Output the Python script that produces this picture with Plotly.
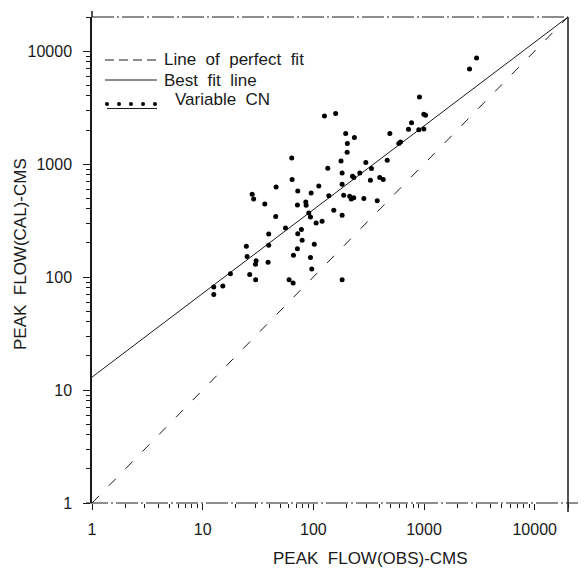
import math
import plotly.graph_objects as go

# ---------------- data ----------------
obs_cms = [64.3, 182, 46.1, 72.3, 112, 95.5, 28.0, 28.9, 36.4, 71.8,
           85.4, 86.1, 138, 182, 188, 45.7, 90.9, 94.2, 153, 182,
           106, 120, 56.0, 78.0, 72.3, 39.5, 79.2, 39.5, 24.8, 102,
           71.8, 66.1, 25.2, 94.2, 30.4, 30.0, 39.0, 96.8, 17.8, 26.6,
           30.1, 60.4, 65.7, 182, 12.6, 15.2, 12.6, 910, 996, 1032,
           126, 159, 771, 724, 897, 996, 196, 235, 491, 203,
           613, 202, 63.8, 178, 465, 298, 135, 335, 226, 232,
           263, 328, 398, 428, 213, 220, 232, 286, 378, 2985,
           2578, 592]
cal_cms = [728, 832, 626, 577, 639, 554, 539, 490, 443, 434,
           461, 431, 525, 661, 528, 344, 368, 340, 389, 352,
           300, 311, 271, 263, 242, 240, 211, 191, 187, 195,
           178, 156, 152, 149, 139, 130, 135, 118, 107, 105,
           94.8, 94.8, 88.5, 94.8, 81.6, 83.2, 69.9, 3918, 2754, 2698,
           2660, 2793, 2324, 2028, 2015, 2041, 1858, 1713, 1858, 1516,
           1566, 1270, 1130, 1063, 1079, 1029, 916, 911, 778, 758,
           832, 718, 758, 728, 518, 490, 504, 494, 474, 8670,
           6930, 1516]

perfect_x = [1, 20000]
perfect_y = [1, 20000]
bestfit_x = [1, 20000]
bestfit_y = [13, 20000]

tick_vals = [1, 10, 100, 1000, 10000]
tick_text = ["1", "10", "100", "1000", "10000"]
axis_max = 20000

x_title = "PEAK  FLOW(OBS)-CMS"
y_title = "PEAK  FLOW(CAL)-CMS"
legend_labels = ["Line  of  perfect  fit", "Best  fit  line", "Variable  CN"]

# ---------------- layout geometry ----------------
# the page body adds an 8px margin, so the figure is drawn 8px in from the corner
OFF = 8
W, H = 586 - OFF, 574 - OFF
PLOT_L, PLOT_R, PLOT_T, PLOT_B = 92, 568, 17, 503   # target window pixels
L, T = PLOT_L - OFF, PLOT_T - OFF
R, B = W - (PLOT_R - OFF), H - (PLOT_B - OFF)
PW, PH = W - L - R, H - T - B
FONT = "Liberation Sans, Arial, Helvetica, sans-serif"
INK = "#1a1a1a"


def px_x(p):
    return (p - PLOT_L) / PW


def px_y(p):
    return (PLOT_B - p) / PH


fig = go.Figure()
fig.add_trace(go.Scatter(x=perfect_x, y=perfect_y, mode="lines",
                         line=dict(color=INK, width=1, dash="10px,14px"),
                         showlegend=False, hoverinfo="skip"))
fig.add_trace(go.Scatter(x=bestfit_x, y=bestfit_y, mode="lines",
                         line=dict(color=INK, width=1),
                         showlegend=False, hoverinfo="skip"))
fig.add_trace(go.Scatter(x=obs_cms, y=cal_cms, mode="markers",
                         marker=dict(color="black", size=5),
                         showlegend=False))

rng = [0, math.log10(axis_max)]
common = dict(type="log", range=rng, tickvals=tick_vals, ticktext=tick_text,
              ticks="outside", tickcolor=INK, tickwidth=1, showgrid=False,
              zeroline=False,
              tickfont=dict(family=FONT, size=16, color=INK),
              minor=dict(ticks="outside", ticklen=4, tickcolor=INK, tickwidth=1,
                         dtick="D1", showgrid=False))
fig.update_xaxes(**common, ticklen=6, showline=False, ticklabelstandoff=6)
fig.update_yaxes(**common, ticklen=7, showline=True, linecolor=INK, linewidth=1.5,
                 ticklabelstandoff=8)

shapes = []
dashdot = "22px,3px,2px,3px"
# top border (dash-dot) and bottom axis line
shapes.append(dict(type="line", xref="paper", yref="paper", x0=0, x1=1, y0=1, y1=1,
                   line=dict(color=INK, width=1, dash=dashdot)))
shapes.append(dict(type="line", xref="paper", yref="paper", x0=px_x(86), x1=px_x(586),
                   y0=0, y1=0, line=dict(color=INK, width=1, dash=dashdot)))
# right border
shapes.append(dict(type="line", xref="paper", yref="paper", x0=1, x1=1,
                   y0=px_y(512), y1=1, line=dict(color=INK, width=1.5)))
# left axis extends slightly above top
shapes.append(dict(type="line", xref="paper", yref="paper", x0=0, x1=0,
                   y0=1, y1=px_y(11), line=dict(color=INK, width=1.5)))

# hand-drawn legend
shapes.append(dict(type="line", xref="paper", yref="paper", x0=px_x(105), x1=px_x(157),
                   y0=px_y(60), y1=px_y(60), line=dict(color=INK, width=1, dash="9px,5px")))
shapes.append(dict(type="line", xref="paper", yref="paper", x0=px_x(105), x1=px_x(157),
                   y0=px_y(80), y1=px_y(80), line=dict(color=INK, width=1)))
for cx in [107, 119, 131, 143, 155]:
    shapes.append(dict(type="circle", xref="paper", yref="paper",
                       x0=px_x(cx - 2), x1=px_x(cx + 2), y0=px_y(106), y1=px_y(102),
                       fillcolor="black", line=dict(width=0)))
shapes.append(dict(type="line", xref="paper", yref="paper", x0=px_x(107), x1=px_x(157),
                   y0=px_y(108.5), y1=px_y(108.5), line=dict(color=INK, width=1)))

annotations = []
for label, xp, yp in zip(legend_labels, [162, 162, 173], [59, 80, 99]):
    annotations.append(dict(text=label, xref="paper", yref="paper", x=px_x(xp), y=px_y(yp),
                            xanchor="left", yanchor="middle", showarrow=False,
                            font=dict(family=FONT, size=17, color=INK)))
annotations.append(dict(text=x_title, xref="paper", yref="paper", x=px_x(370), y=px_y(558),
                        xanchor="center", yanchor="middle", showarrow=False,
                        font=dict(family=FONT, size=17, color=INK)))
annotations.append(dict(text=y_title, xref="paper", yref="paper", x=px_x(21), y=px_y(254),
                        xanchor="center", yanchor="middle", showarrow=False, textangle=-90,
                        font=dict(family=FONT, size=17, color=INK)))

fig.update_layout(width=W, height=H, margin=dict(l=L, r=R, t=T, b=B),
                  paper_bgcolor="white", plot_bgcolor="white",
                  shapes=shapes, annotations=annotations, showlegend=False)

fig.write_html("out.html")
